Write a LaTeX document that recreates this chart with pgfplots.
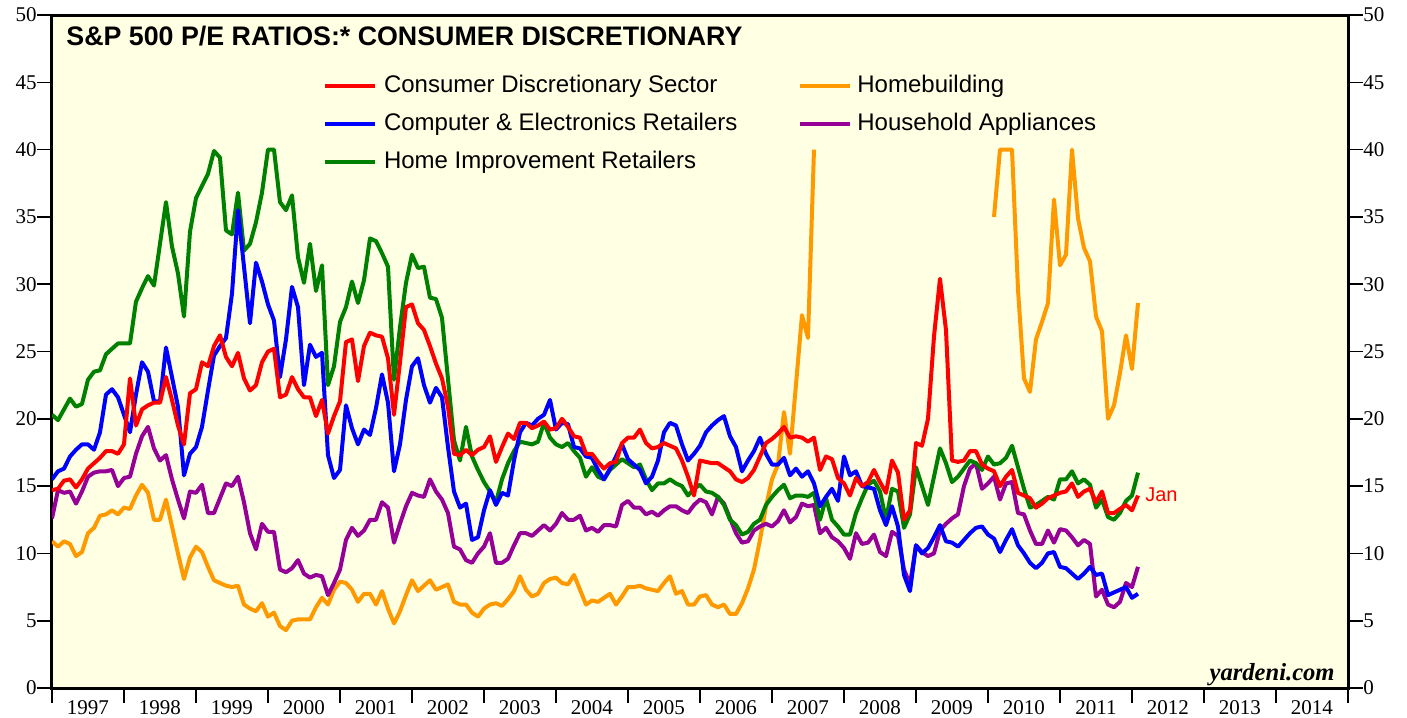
\documentclass[border=0pt]{standalone}
\usepackage{pgfplots}
\usepackage{pgfplotstable}
\pgfplotsset{compat=1.18}
\usepackage{fontspec}
\setmainfont{Liberation Serif}
\setsansfont{Liberation Sans}

\definecolor{bgyellow}{RGB}{255,255,228}
\definecolor{sred}{RGB}{255,0,0}
\definecolor{sblue}{RGB}{0,0,255}
\definecolor{sgreen}{RGB}{0,128,0}
\definecolor{sorange}{RGB}{255,153,0}
\definecolor{spurple}{RGB}{150,0,150}

% month index m: 0 = Jan 1997
\pgfplotstableread{
m v
0 14.7
1 14.8
2 15.4
3 15.5
4 14.9
5 15.5
6 16.3
7 16.7
8 17.1
9 17.6
10 17.6
11 17.4
12 18.1
13 23.0
14 19.5
15 20.7
16 21.0
17 21.2
18 21.2
19 23.1
20 21.4
21 19.5
22 18.1
23 21.9
24 22.2
25 24.2
26 23.9
27 25.4
28 26.2
29 24.6
30 23.9
31 24.9
32 23.0
33 22.1
34 22.5
35 24.2
36 25.0
37 25.2
38 21.6
39 21.8
40 23.1
41 22.2
42 21.6
43 21.6
44 20.2
45 21.4
46 18.9
47 20.2
48 21.3
49 25.7
50 25.9
51 22.8
52 25.4
53 26.4
54 26.2
55 26.1
56 24.5
57 20.3
58 24.2
59 28.3
60 28.5
61 27.1
62 26.6
63 25.4
64 24.1
65 23.0
66 20.9
67 17.4
68 17.3
69 17.7
70 17.3
71 17.7
72 17.9
73 18.7
74 16.8
75 17.9
76 18.9
77 18.5
78 19.7
79 19.7
80 19.3
81 19.5
82 19.8
83 19.2
84 19.3
85 20.0
86 19.4
87 18.7
88 18.6
89 17.4
90 17.4
91 16.8
92 16.3
93 16.7
94 16.8
95 18.2
96 18.6
97 18.6
98 19.2
99 18.2
100 17.8
101 17.9
102 18.2
103 18.0
104 17.8
105 16.9
106 15.7
107 14.3
108 16.9
109 16.8
110 16.7
111 16.7
112 16.4
113 16.1
114 15.5
115 15.3
116 15.6
117 16.2
118 17.2
119 18.2
120 18.5
121 18.9
122 19.4
123 18.6
124 18.7
125 18.6
126 18.3
127 18.6
128 16.2
129 17.2
130 17.0
131 15.6
132 15.2
133 14.3
134 15.6
135 15.0
136 15.3
137 16.2
138 15.3
139 14.5
140 16.9
141 16.0
142 12.5
143 13.2
144 18.2
145 18.0
146 20.0
147 26.1
148 30.4
149 26.6
150 16.9
151 16.8
152 16.9
153 17.6
154 17.6
155 16.6
156 16.3
157 16.1
158 15.0
159 15.7
160 16.2
161 14.5
162 14.3
163 14.1
164 13.4
165 13.7
166 14.1
167 14.3
168 14.5
169 14.6
170 15.2
171 14.2
172 14.6
173 14.8
174 13.8
175 14.6
176 13.0
177 13.0
178 13.3
179 13.6
180 13.2
181 14.3
}\consdisc

\pgfplotstableread{
m v
0 15.5
1 16.1
2 16.3
3 17.2
4 17.7
5 18.1
6 18.1
7 17.7
8 19.0
9 21.8
10 22.2
11 21.6
12 20.3
13 19.0
14 21.8
15 24.2
16 23.5
17 21.3
18 21.3
19 25.3
20 23.1
21 20.9
22 15.8
23 17.4
24 17.9
25 19.4
26 22.1
27 24.7
28 25.4
29 26.0
30 29.3
31 35.5
33 27.1
34 31.6
35 30.2
36 28.5
37 27.3
38 23.1
39 25.9
40 29.8
41 28.3
42 22.5
43 25.5
44 24.6
45 24.9
46 17.3
47 15.6
48 16.2
49 21.0
50 19.3
51 18.1
52 19.2
53 18.8
54 20.8
55 23.3
56 21.2
57 16.1
58 18.1
59 21.4
60 23.9
61 24.5
62 22.5
63 21.2
64 22.3
65 21.6
66 17.9
67 14.6
68 13.4
69 13.7
70 11.0
71 11.2
72 13.2
73 14.7
74 13.6
75 14.5
76 14.3
77 16.9
78 19.0
79 19.7
80 19.5
81 20.0
82 20.3
83 21.4
84 19.2
85 19.7
86 19.6
87 17.9
88 17.8
89 17.2
90 17.1
91 16.2
92 15.5
93 16.3
95 18.1
96 17.0
97 16.6
98 16.2
99 15.2
100 15.7
101 16.9
102 19.0
103 19.7
104 19.5
105 18.1
106 16.9
107 17.4
108 18.0
109 19.0
110 19.5
111 19.9
112 20.2
113 18.7
114 17.9
115 16.1
116 16.9
117 17.6
118 18.6
119 17.4
120 16.6
121 16.6
122 17.1
123 15.8
124 16.3
125 15.7
126 16.1
127 15.2
128 13.5
129 14.2
130 14.8
131 13.9
132 17.2
133 15.8
134 16.1
135 15.0
136 14.9
137 14.8
138 13.2
139 12.1
140 13.5
141 12.0
142 8.4
143 7.2
144 10.6
145 10.0
146 10.4
147 11.2
148 12.1
149 10.9
150 10.8
151 10.5
152 11.0
153 11.5
154 11.9
155 12.0
156 11.4
157 11.1
158 10.1
159 11.0
160 11.8
161 10.6
162 10.0
163 9.3
164 8.9
165 9.3
166 10.0
167 10.1
168 9.0
169 8.9
170 8.5
171 8.1
172 8.5
173 9.0
174 8.4
175 8.5
176 6.9
177 7.1
178 7.3
179 7.5
180 6.7
181 7.0
}\compelec

\pgfplotstableread{
m v
0 20.3
1 19.9
3 21.5
4 20.9
5 21.1
6 22.9
7 23.5
8 23.6
9 24.8
10 25.2
11 25.6
13 25.6
14 28.7
15 29.7
16 30.6
17 29.9
19 36.1
20 32.8
21 30.8
22 27.6
23 33.9
24 36.4
26 38.2
27 39.9
28 39.4
29 34.0
30 33.7
31 36.8
32 32.5
33 33.0
34 34.6
35 36.8
36 40.0
37 40.0
38 36.1
39 35.5
40 36.6
41 32.0
42 30.1
43 33.0
44 29.5
45 31.4
46 22.5
47 23.9
48 27.2
49 28.3
50 30.2
51 28.6
52 30.3
53 33.4
54 33.2
55 32.3
56 31.3
57 22.9
58 26.8
59 30.1
60 32.2
61 31.2
62 31.3
63 29.0
64 28.9
65 27.5
67 18.4
68 16.9
69 19.4
70 17.2
71 16.2
72 15.3
73 14.6
74 13.8
75 15.5
76 16.7
77 17.6
78 18.3
79 18.2
80 18.1
81 18.3
82 19.7
83 18.6
84 18.1
85 17.9
86 18.2
87 17.6
88 17.1
89 15.7
90 16.4
91 15.7
92 15.5
93 16.2
95 17.0
96 16.7
97 16.4
98 16.6
99 15.5
100 14.7
101 15.2
102 15.2
103 15.5
104 15.2
105 15.0
106 14.3
107 14.8
108 15.1
109 14.6
110 14.5
111 14.2
112 13.6
113 12.5
114 12.1
115 11.4
116 11.6
117 12.2
118 12.5
119 13.6
120 14.2
121 14.7
122 15.1
123 14.1
124 14.3
125 14.3
126 14.2
127 14.5
128 12.5
129 14.1
130 12.5
131 12.0
132 11.4
133 11.4
134 13.0
135 14.1
136 15.1
137 15.4
138 14.6
139 12.5
140 14.8
141 14.6
142 11.9
143 12.9
144 16.4
145 15.0
146 13.6
147 15.7
148 17.8
149 16.7
150 15.3
151 15.7
152 16.3
153 16.9
154 16.7
155 16.2
156 17.2
157 16.6
158 16.7
159 17.1
160 18.0
161 16.4
162 14.8
163 13.4
164 13.6
165 13.9
166 14.2
167 14.0
168 15.5
169 15.5
170 16.1
171 15.2
172 15.5
173 15.1
174 13.4
175 14.0
176 12.7
177 12.5
178 13.0
179 13.9
180 14.3
181 16.0
}\homeimpr

% values above 40 are drawn at the 40 ceiling; nan marks months without a ratio
\pgfplotstableread{
m v
0 10.9
1 10.5
2 10.9
3 10.7
4 9.8
5 10.1
6 11.5
7 11.9
8 12.8
9 12.9
10 13.2
11 12.9
12 13.4
13 13.3
14 14.3
15 15.1
16 14.5
17 12.5
18 12.5
19 14.0
20 12.0
21 10.0
22 8.1
23 9.7
24 10.5
25 10.1
26 9.0
27 8.0
28 7.8
29 7.6
30 7.5
31 7.6
32 6.2
33 5.9
34 5.7
35 6.3
36 5.3
37 5.6
38 4.6
39 4.3
40 5.0
41 5.1
42 5.1
43 5.1
44 6.0
45 6.7
46 6.2
47 7.3
48 7.9
49 7.8
50 7.3
51 6.4
52 7.0
53 7.0
54 6.2
55 7.2
56 5.9
57 4.8
58 5.7
59 6.9
60 8.0
61 7.2
62 7.6
63 8.0
64 7.3
65 7.5
66 7.7
67 6.4
68 6.2
69 6.2
70 5.6
71 5.3
72 5.9
73 6.2
74 6.3
75 6.1
76 6.6
77 7.2
78 8.3
79 7.3
80 6.8
81 7.0
82 7.8
83 8.1
84 8.2
85 7.8
86 7.7
87 8.4
88 7.3
89 6.2
90 6.5
91 6.4
92 6.7
93 7.0
94 6.2
95 6.8
96 7.5
97 7.5
98 7.6
99 7.4
100 7.3
101 7.2
102 7.8
103 8.3
104 7.0
105 7.2
106 6.2
107 6.2
108 6.8
109 6.9
110 6.2
111 6.0
112 6.2
113 5.5
114 5.5
115 6.3
116 7.4
117 8.8
118 11.0
119 13.5
120 15.5
121 16.6
122 20.5
123 17.4
125 27.7
126 26.0
127 40.0
128 nan
157 35.0
158 40.0
159 40.0
160 40.0
161 29.6
162 23.0
163 22.0
164 25.9
165 27.2
166 28.6
167 36.3
168 31.4
169 32.2
170 40.0
171 34.9
172 32.7
173 31.7
174 27.6
175 26.5
176 20.0
177 21.0
178 23.4
179 26.2
180 23.7
181 28.6
}\homebuild

\pgfplotstableread{
m v
0 12.6
1 14.7
2 14.5
3 14.6
4 13.7
5 14.6
6 15.7
7 16.0
8 16.1
9 16.1
10 16.2
11 15.0
12 15.6
13 15.7
14 17.4
15 18.7
16 19.4
17 17.8
18 16.9
19 17.3
20 15.5
21 14.0
22 12.6
23 14.6
24 14.5
25 15.1
26 13.0
27 13.0
28 14.1
29 15.2
30 15.0
31 15.7
32 13.8
33 11.5
34 10.3
35 12.2
36 11.6
37 11.6
38 8.8
39 8.6
40 8.9
41 9.5
42 8.5
43 8.2
44 8.4
45 8.3
46 6.9
47 7.8
48 8.8
49 11.0
50 11.9
51 11.3
52 11.7
53 12.5
54 12.5
55 13.8
56 13.4
57 10.8
58 12.2
59 13.5
60 14.5
61 14.3
62 14.2
63 15.5
64 14.6
65 14.0
66 13.0
67 10.5
68 10.3
69 9.5
70 9.3
71 10.0
72 10.5
73 11.5
74 9.3
75 9.3
76 9.6
77 10.6
78 11.5
79 11.5
80 11.3
81 11.7
82 12.1
83 11.7
84 12.2
85 13.0
86 12.5
87 12.5
88 12.8
89 11.7
90 11.9
91 11.6
92 12.1
93 12.1
94 12.0
95 13.6
96 13.9
97 13.4
98 13.4
99 12.9
100 13.1
101 12.8
102 13.2
103 13.5
104 13.5
105 13.2
106 13.0
107 13.6
108 14.0
109 13.8
110 12.9
111 14.2
112 13.7
113 12.6
114 11.5
115 10.8
116 10.9
117 11.7
118 12.0
119 12.2
120 12.0
121 12.4
122 13.2
123 12.3
124 12.7
125 13.7
126 13.5
127 13.6
128 11.5
129 11.9
130 11.2
131 10.9
132 10.4
133 9.6
134 11.5
135 10.7
136 10.8
137 11.4
138 10.1
139 9.8
140 11.6
141 11.3
142 8.8
143 7.7
144 10.6
145 10.1
146 9.8
147 10.0
148 11.7
149 12.2
150 12.6
151 12.9
152 15.0
153 16.3
154 16.7
155 14.8
156 15.2
157 15.7
158 14.0
159 15.2
160 15.3
161 13.0
162 12.9
163 11.7
164 10.7
165 10.7
166 11.7
167 10.8
168 11.8
169 11.7
170 11.2
171 10.6
172 11.0
173 10.7
174 6.8
175 7.3
176 6.2
177 6.0
178 6.4
179 7.8
180 7.5
181 9.0
}\appliances

\pgfplotsset{
  pe frame/.style={
    at={(0,0)}, anchor=south west,
    width=648pt, height=336.5pt, scale only axis,
    xmin=1997, xmax=2015, ymin=0, ymax=50,
    ytick={0,5,...,50},
    tick align=outside,
    major tick length=7.5pt,
    axis line style={line width=1.5pt, black},
    every tick/.style={black, line width=0.8pt},
    /pgf/number format/assume math mode=true,
    yticklabel style={font=\fontsize{10.5}{12}\selectfont, inner sep=0pt},
    legend image code/.code={%
      \draw[##1, line width=2pt] (0pt,0pt) -- (25pt,0pt);
      \path (28.5pt,0pt);},
    legend style={draw=none, fill=none, inner sep=0pt, outer sep=0pt,
      anchor=north west, row sep=7pt,
      font=\sffamily\fontsize{12}{14}\selectfont,
      nodes={inner sep=0pt, text height=9pt, text depth=3pt}},
    legend cell align=left,
  },
  pe line/.style={line width=2pt, line join=round, no markers},
}

\begin{document}
\begin{tikzpicture}
\path[use as bounding box] (-26pt,-14.5pt) rectangle (677.5pt,344pt);

\begin{axis}[
  pe frame,
  axis background/.style={fill=bgyellow},
  xtick={1997,...,2015},
  x tick label as interval,
  xticklabels={1997,1998,1999,2000,2001,2002,2003,2004,2005,2006,2007,2008,2009,2010,2011,2012,2013,2014},
  xticklabel style={font=\fontsize{10.5}{12}\selectfont, inner sep=0pt, anchor=north, yshift=1.5pt},
  xtick pos=bottom, ytick pos=left,
  yticklabel pos=left,
  x tick style={line width=1.2pt},
  unbounded coords=jump,
  reverse legend,
  legend style={at={(rel axis cs:0.2091,0.9123)}},
]
\addplot[pe line, sorange, forget plot] table[x expr=1997+\thisrow{m}/12, y=v]{\homebuild};
\addplot[pe line, spurple, forget plot] table[x expr=1997+\thisrow{m}/12, y=v]{\appliances};
\addplot[pe line, sgreen] table[x expr=1997+\thisrow{m}/12, y=v]{\homeimpr};
\addplot[pe line, sblue] table[x expr=1997+\thisrow{m}/12, y=v]{\compelec};
\addplot[pe line, sred] table[x expr=1997+\thisrow{m}/12, y=v]{\consdisc};
\legend{Home Improvement Retailers, Computer \& Electronics Retailers, Consumer Discretionary Sector}

\node[anchor=base west, inner sep=0pt, font=\sffamily\bfseries\fontsize{13.4}{15}\selectfont]
  at ([xshift=7pt, yshift=-15.25pt]rel axis cs:0,1) {S\&P 500 P/E RATIOS:* CONSUMER DISCRETIONARY};
\node[anchor=base west, inner sep=0pt, text=sred, font=\sffamily\fontsize{10}{12}\selectfont]
  at (axis cs:2012.18,13.82) {Jan};
\node[anchor=base east, inner sep=0pt, font=\bfseries\itshape\fontsize{12.3}{14}\selectfont]
  at ([xshift=-6.5pt, yshift=4pt]rel axis cs:1,0) {yardeni.com};
\end{axis}

\begin{axis}[
  pe frame,
  axis x line=none,
  axis y line*=right,
  legend style={at={(rel axis cs:0.5756,0.9123)}},
]
\addlegendimage{sorange}
\addlegendentry{Homebuilding}
\addlegendimage{spurple}
\addlegendentry{Household Appliances}
\end{axis}
\end{tikzpicture}
\end{document}
